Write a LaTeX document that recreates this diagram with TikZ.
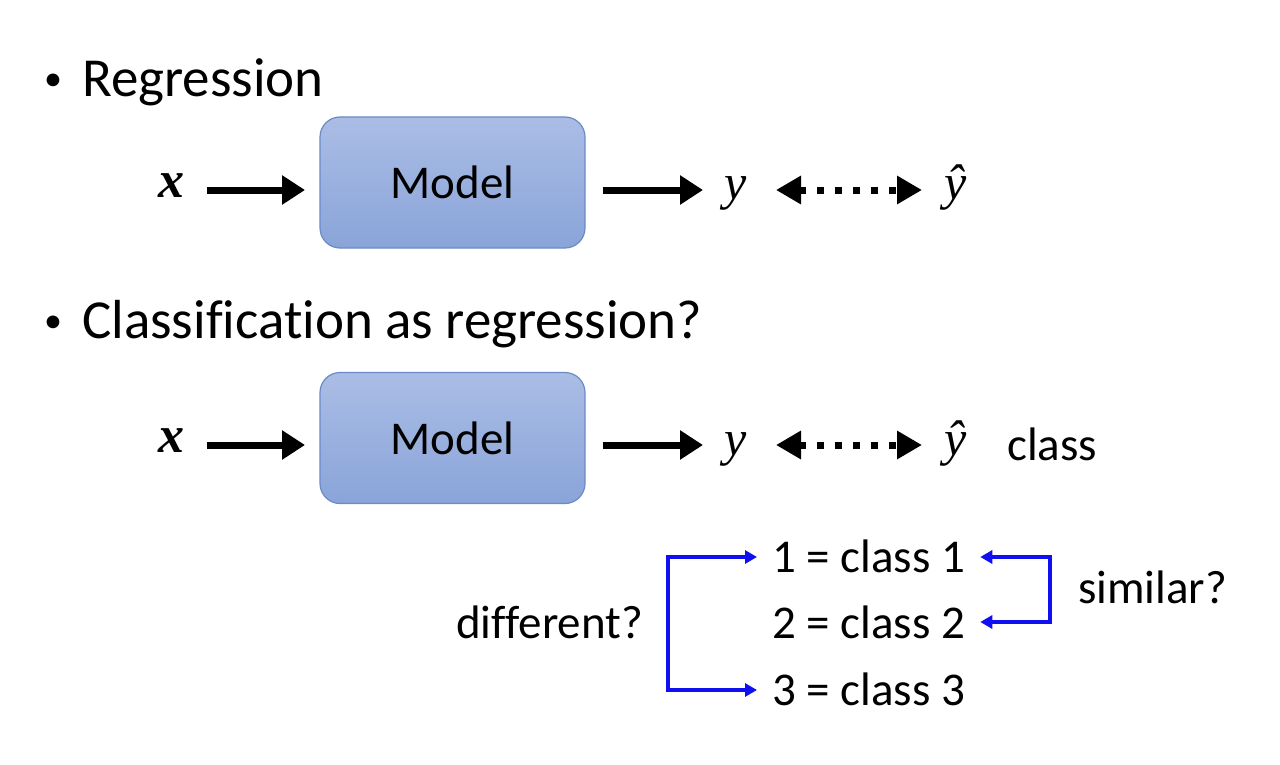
\documentclass[tikz,border=0pt]{standalone}
\usepackage{fontspec}
\setmainfont[Ligatures=NoCommon]{Carlito}
\newfontfamily\mathserif{Liberation Serif}
\usetikzlibrary{arrows.meta}
\definecolor{boxtop}{RGB}{170,189,229}
\definecolor{boxbot}{RGB}{138,164,217}
\definecolor{boxline}{RGB}{108,138,198}
\definecolor{conblue}{RGB}{15,15,240}
\tikzset{
  head/.style={inner sep=0pt, anchor=base west, font=\fontsize{55}{60}\selectfont},
  bulletmark/.style={inner sep=0pt, anchor=base west, font=\fontsize{36}{40}\selectfont},
  body/.style={inner sep=0pt, anchor=base west, font=\fontsize{47}{52}\selectfont},
  mvar/.style={inner sep=0pt, anchor=base west, font=\mathserif\itshape\fontsize{50}{54}\selectfont},
  mbold/.style={inner sep=0pt, anchor=base west, font=\mathserif\bfseries\itshape\fontsize{52}{56}\selectfont},
  modelbox/.style={draw=boxline, line width=1.2pt, rounded corners=20pt, top color=boxtop, bottom color=boxbot,
    minimum width=265pt, minimum height=131pt, inner sep=0pt, font=\fontsize{47}{52}\selectfont},
  bigarrow/.style={line width=7pt, -{Triangle[length=23pt,width=28pt]}},
  dotarrow/.style={line width=7pt, dash pattern=on 7pt off 11pt, {Triangle[length=25pt,width=27pt]}-{Triangle[length=25pt,width=27pt]}},
  bluearrow/.style={draw=conblue, line width=3.5pt, -{Triangle[length=12pt,width=13pt]}},
}
\begin{document}
\begin{tikzpicture}[x=1pt,y=-1pt]
\useasboundingbox[fill=white] (0,0) rectangle (1280,765);
% Regression
\node[bulletmark] (b1) at (44,91) {•};
\node[head] (t1) at (82,97) {Regression};
\node[mbold] (x1) at (158,197) {x};
\node[modelbox] (m1) at (452.5,182.5) {Model};
\node[mvar] (y1) at (724,200) {y};
\node[mvar] (yh1) at (944,200) {\^{y}};
\coordinate (a1s) at (207,190); \coordinate (a1e) at (305,190);
\coordinate (a2s) at (603,190); \coordinate (a2e) at (703,190);
\coordinate (d1s) at (776,190); \coordinate (d1e) at (922,190);
\draw[bigarrow] (a1s) -- (a1e);
\draw[bigarrow] (a2s) -- (a2e);
\draw[dotarrow] (d1s) -- (d1e);
% Classification
\node[bulletmark] (b2) at (44,332) {•};
\node[head] (t2) at (82,338) {Classification as regression?};
\node[mbold] (x2) at (158,452) {x};
\node[modelbox] (m2) at (452.5,438) {Model};
\node[mvar] (y2) at (724,455) {y};
\node[mvar] (yh2) at (944,455) {\^{y}};
\node[body] (cls) at (1007,460) {class};
\coordinate (a3s) at (207,445); \coordinate (a3e) at (305,445);
\coordinate (a4s) at (603,445); \coordinate (a4e) at (703,445);
\coordinate (d2s) at (776,445); \coordinate (d2e) at (922,445);
\draw[bigarrow] (a3s) -- (a3e);
\draw[bigarrow] (a4s) -- (a4e);
\draw[dotarrow] (d2s) -- (d2e);
% classes
\node[body] (c1) at (772,572) {1 = class 1};
\node[body] (c2) at (772,638) {2 = class 2};
\node[body] (c3) at (772,705) {3 = class 3};
\node[body] (diff) at (456,638) {different?};
\node[body] (sim) at (1078,603) {similar?};
\coordinate (lb1) at (668,557); \coordinate (lb3) at (668,690);
\coordinate (rb1) at (1050,557); \coordinate (rb2) at (1050,622);
\draw[bluearrow] (lb3) -- (lb1) -- ([xshift=-15pt]c1.west |- lb1);
\draw[bluearrow] (lb1) -- (lb3) -- ([xshift=-15pt]c3.west |- lb3);
\draw[bluearrow] (rb2) -- (rb1) -- ([xshift=15pt]c1.east |- rb1);
\draw[bluearrow] (rb1) -- (rb2) -- ([xshift=15pt]c2.east |- rb2);
\end{tikzpicture}
\end{document}
